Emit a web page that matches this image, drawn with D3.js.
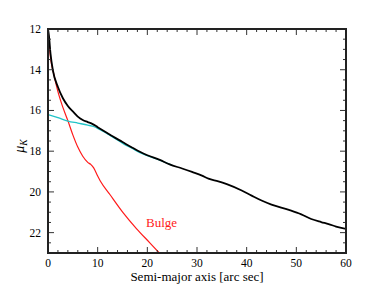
<!DOCTYPE html>
<html><head><meta charset="utf-8">
<script src="https://cdn.jsdelivr.net/npm/d3@7"></script>
<style>body{margin:0;background:#fff}svg{display:block}</style>
</head><body>
<script>
const totalX = [0,0.2,0.5,1.0,2.0,3.0,4.0,5.0,6.0,7.0,8.0,9.0,10,11,12,13,15,17,18.5,20,22.5,24.5,27,29,31,32.3,34.3,36,39,41,43,45,48.5,51,53,55,56.5,58,60];
const totalMu = [12.0,12.35,13.2,14.05,14.85,15.4,15.78,16.05,16.3,16.47,16.57,16.67,16.82,16.97,17.12,17.27,17.55,17.83,18.03,18.2,18.43,18.65,18.85,19.02,19.2,19.35,19.48,19.62,19.93,20.18,20.42,20.62,20.88,21.1,21.33,21.48,21.58,21.7,21.82];
const diskX = [0,2,4,6,8,9.3,10.5,12,13.5,15.2,17,18.5,20,22.5,25];
const diskMu = [16.2,16.35,16.52,16.62,16.72,16.8,16.95,17.15,17.38,17.64,17.87,18.07,18.22,18.44,18.7];
const bulgeX = [0,0.5,1.2,2.2,3.0,4.0,5.0,6.0,7.0,8.0,8.6,9.2,10.0,10.5,12.5,15.15,17.8,20.5,23];
const bulgeMu = [12.0,13.4,14.25,15.25,15.85,16.5,17.2,17.8,18.25,18.55,18.65,18.82,19.22,19.45,20.14,21.03,21.8,22.5,23.15];
const xTicks = [0,10,20,30,40,50,60];
const yTicks = [12,14,16,18,20,22];

const W=384,H=288, L=48,R=346,T=29,B=253;
const FONT="Liberation Serif";
const svg=d3.select("body").append("svg").attr("width",W).attr("height",H);
const x=d3.scaleLinear().domain([0,60]).range([L,R]);
const y=d3.scaleLinear().domain([12,23]).range([T,B]);

svg.append("clipPath").attr("id","clip").append("rect").attr("x",L).attr("y",T).attr("width",R-L).attr("height",B-T);

const line=d3.line().x(d=>x(d[0])).y(d=>y(d[1])).curve(d3.curveMonotoneX);
const zip=(a,b)=>a.map((v,i)=>[v,b[i]]);
const g=svg.append("g").attr("clip-path","url(#clip)");
g.append("path").datum(zip(bulgeX,bulgeMu)).attr("d",line).attr("fill","none").attr("stroke","#ff1a1a").attr("stroke-width",1.2);
g.append("path").datum(zip(diskX,diskMu)).attr("d",line).attr("fill","none").attr("stroke","#22c4c8").attr("stroke-width",1.3);
g.append("path").datum(zip(totalX,totalMu)).attr("d",line).attr("fill","none").attr("stroke","#000").attr("stroke-width",1.8);

const xMinor=d3.range(0,60.01,2), yMinor=d3.range(12,23.01,0.5);
const tg=svg.append("g").attr("stroke","#333").attr("stroke-width",1);
xMinor.forEach(v=>{
  const len = xTicks.includes(v)?6:3;
  tg.append("line").attr("x1",x(v)).attr("x2",x(v)).attr("y1",B).attr("y2",B-len);
  tg.append("line").attr("x1",x(v)).attr("x2",x(v)).attr("y1",T).attr("y2",T+len);
});
yMinor.forEach(v=>{
  const len = yTicks.includes(v)?6:3;
  tg.append("line").attr("x1",L).attr("x2",L+len).attr("y1",y(v)).attr("y2",y(v));
  tg.append("line").attr("x1",R).attr("x2",R-len).attr("y1",y(v)).attr("y2",y(v));
});
svg.append("rect").attr("x",L).attr("y",T).attr("width",R-L).attr("height",B-T).attr("fill","none").attr("stroke","#222").attr("stroke-width",2);

svg.append("g").selectAll("text").data(xTicks).join("text")
  .attr("x",d=>x(d)).attr("y",B+14).attr("text-anchor","middle")
  .attr("font-family",FONT).attr("font-size",11.5).text(d=>d);
svg.append("g").selectAll("text").data(yTicks).join("text")
  .attr("x",L-7).attr("y",d=>y(d)+4).attr("text-anchor","end")
  .attr("font-family",FONT).attr("font-size",11.5).text(d=>d);

svg.append("text").attr("x",(L+R)/2).attr("y",281).attr("text-anchor","middle")
  .attr("font-family",FONT).attr("font-size",13).text("Semi-major axis [arc sec]");
const yl=svg.append("text").attr("transform","translate(24,146) rotate(-90)").attr("text-anchor","middle")
  .attr("font-family",FONT).attr("font-size",14).attr("font-style","italic");
yl.append("tspan").text("μ");
yl.append("tspan").attr("font-size",9.5).attr("dy",3).text("K");

svg.append("text").attr("x",146).attr("y",227).attr("font-family",FONT).attr("font-size",13)
  .attr("fill","#ff1a1a").text("Bulge");
</script>
</body></html>
